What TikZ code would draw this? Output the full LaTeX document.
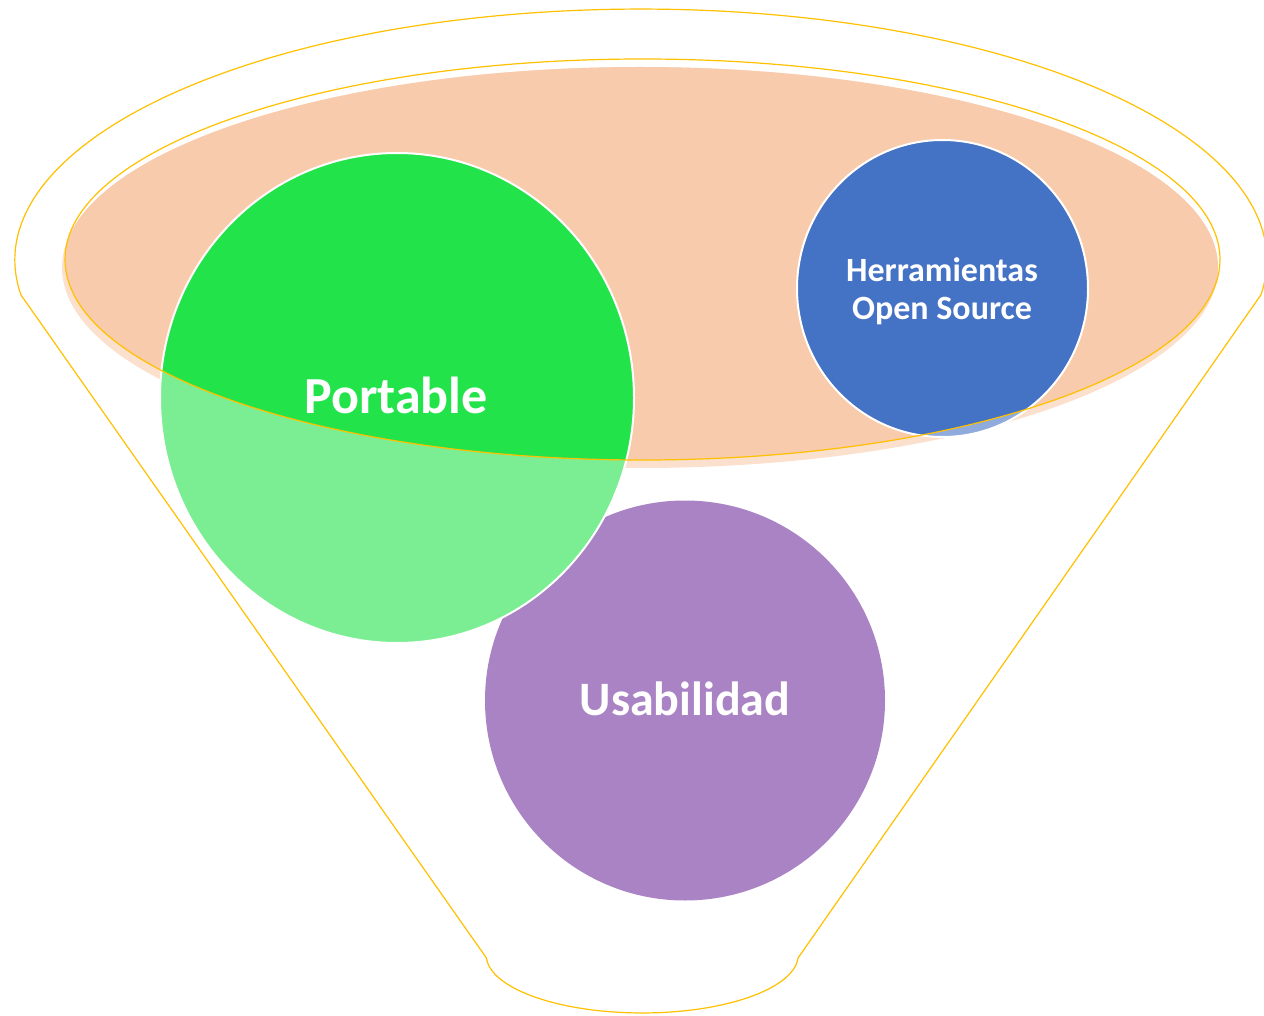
\documentclass[tikz,border=0pt]{standalone}
\usepackage{fontspec}
\setmainfont{Carlito}
\definecolor{rimyellow}{HTML}{FFC000}
\definecolor{mouthpeach}{HTML}{F8CBAD}
\definecolor{portgreen}{HTML}{23E34B}
\definecolor{toolblue}{HTML}{4472C4}
\definecolor{usepurple}{HTML}{A983C4}
\tikzset{
  rim/.style={draw=rimyellow, line width=1.2pt},
  ballrim/.style={draw=white, line width=2pt},
  lbl/.style={text=white, font=\bfseries, align=center}
}
\begin{document}
\begin{tikzpicture}
  [x=1pt,y=-1pt]
  \useasboundingbox (0,0) rectangle (1264,1016);
  \coordinate (M) at (642.5,259.5);
  \coordinate (S) at (640,267.5);

  % funnel body
  \draw[rim] (21,295) arc[start angle=172,end angle=368,x radius=626,y radius=251]
    -- (798,958) arc[start angle=3,end angle=177,x radius=156,y radius=58] -- cycle;

  % mouth with its shadow
  \fill[mouthpeach!60] (S) ellipse[x radius=578,y radius=200.5];
  \begin{scope}
    \clip (M) ellipse[x radius=577.5,y radius=200.5];
    \fill[mouthpeach] (S) ellipse[x radius=578,y radius=200.5];
  \end{scope}

  \fill[usepurple] (685,700.5) circle[radius=200];

  % two-tone balls
  \foreach \c/\x/\y/\rx/\ry in {portgreen/397/398/237/245, toolblue/942.5/288.5/145.5/148.5} {
    \fill[\c!60!white] (\x,\y) ellipse[x radius=\rx,y radius=\ry];
    \begin{scope}
      \clip (M) ellipse[x radius=577.5,y radius=200.5];
      \fill[\c] (\x,\y) ellipse[x radius=\rx,y radius=\ry];
    \end{scope}
    \draw[ballrim] (\x,\y) ellipse[x radius=\rx,y radius=\ry];
  }

  \draw[rim] (M) ellipse[x radius=577.5,y radius=200.5];

  \node[lbl, font=\bfseries\fontsize{52}{60}\selectfont, anchor=base] (portable) at (396,413) {Portable};
  \node[lbl, font=\bfseries\fontsize{48}{58}\selectfont, anchor=base] (usabilidad) at (685,715) {Usabilidad};
  \node[lbl, font=\bfseries\fontsize{34}{37.5}\selectfont] (tools) at (942,291) {Herramientas\\Open Source};
\end{tikzpicture}
\end{document}
